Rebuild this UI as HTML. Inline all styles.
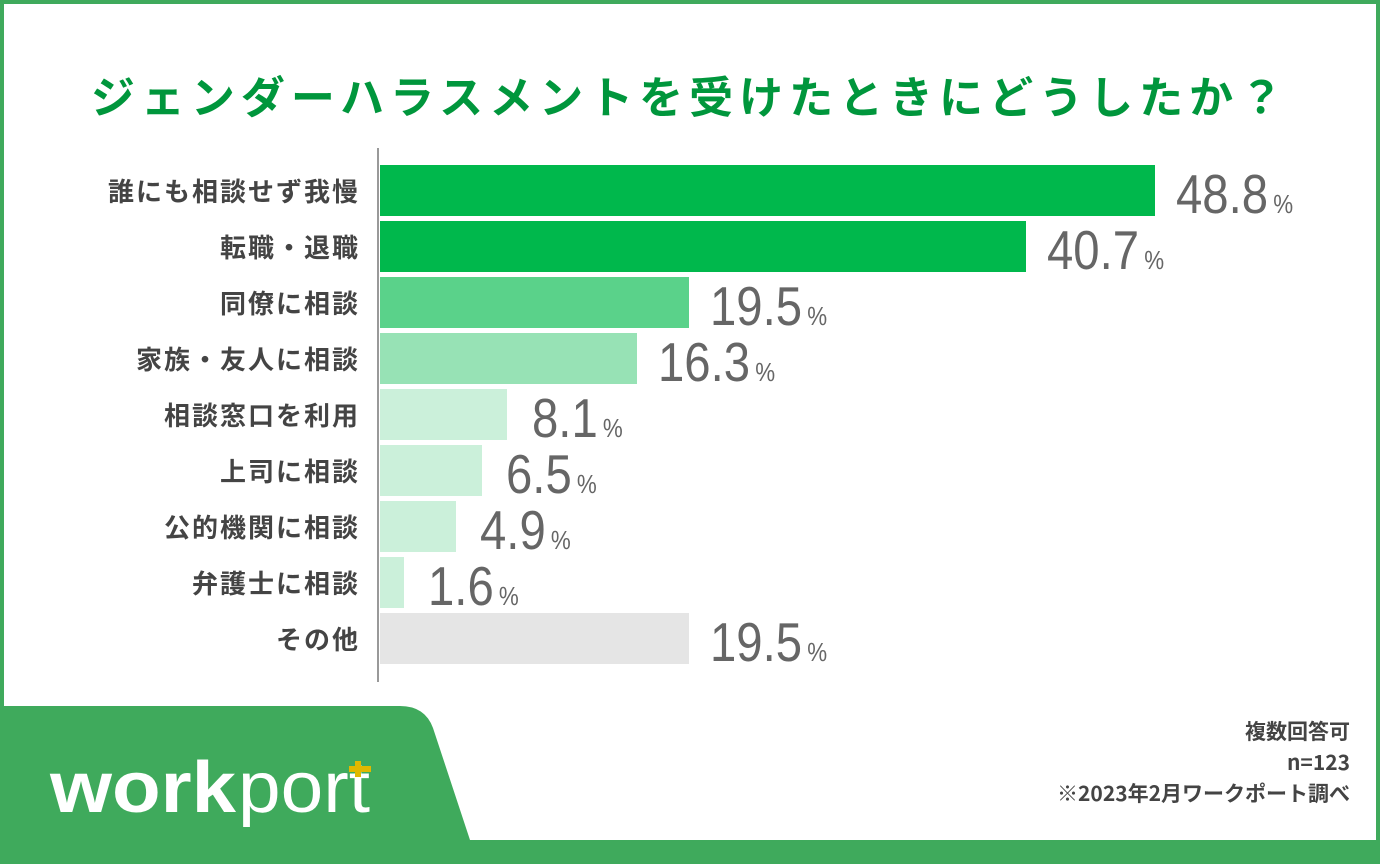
<!DOCTYPE html>
<html><head><meta charset="utf-8"><style>
body{margin:0;width:1380px;height:864px;position:relative;overflow:hidden;background:#fff;font-family:"Liberation Sans","Noto Sans CJK JP",sans-serif}
.frame{position:absolute;left:0;top:0;width:1380px;height:864px;box-sizing:border-box;border:4px solid #3faa5c;border-bottom:none}
.title{position:absolute;left:0;width:1380px;top:62px;text-align:center;font-size:44px;font-weight:bold;color:#00963c;letter-spacing:6px;font-family:"Noto Sans CJK JP",sans-serif}
.axis{position:absolute;left:377px;top:148px;width:2px;height:534px;background:#999}
.bar{position:absolute;left:380px;height:51px}
.lab{position:absolute;right:1022px;font-size:26px;font-weight:bold;color:#444;font-family:"Noto Sans CJK JP",sans-serif;line-height:51px;white-space:nowrap;letter-spacing:2px;margin-right:-2px}
.val{position:absolute;font-size:55px;color:#666;line-height:51px;white-space:nowrap;transform:scaleX(0.86);transform-origin:left}
.val span{font-size:26px;margin-left:6px}
.note{position:absolute;right:30px;text-align:right;font-size:21px;font-weight:bold;color:#444;font-family:"Noto Sans CJK JP",sans-serif;line-height:31px;top:716px}
</style></head><body>
<div class="frame"></div>
<svg style="position:absolute;left:0;top:0" width="1380" height="864">
<path d="M0 706 L400 706 Q425 706 433 728 L470 840 L1380 840 L1380 864 L0 864 Z" fill="#3faa5c"/>
<text x="50" y="812" font-family="Liberation Sans,sans-serif" font-size="72" font-weight="bold" fill="#fff" textLength="186" lengthAdjust="spacingAndGlyphs">work</text>
<text x="238" y="812" font-family="Liberation Sans,sans-serif" font-size="72" fill="#fff" textLength="132" lengthAdjust="spacingAndGlyphs">port</text>
<rect x="349" y="766" width="22" height="6" fill="#e0b800"/><rect x="355" y="761" width="6" height="16" fill="#e0b800"/>
</svg>
<div class="title">ジェンダーハラスメントを受けたときにどうしたか？</div>
<div class="axis"></div>

<div class="bar" style="top:165px;width:775px;background:#00b84c"></div>
<div class="bar" style="top:221px;width:646px;background:#00b84c"></div>
<div class="bar" style="top:277px;width:309px;background:#5ad28a"></div>
<div class="bar" style="top:333px;width:257px;background:#97e2b5"></div>
<div class="bar" style="top:389px;width:127px;background:#cbf0da"></div>
<div class="bar" style="top:445px;width:102px;background:#cbf0da"></div>
<div class="bar" style="top:501px;width:76px;background:#cbf0da"></div>
<div class="bar" style="top:557px;width:24px;background:#cbf0da"></div>
<div class="bar" style="top:613px;width:309px;background:#e5e5e5"></div>

<div class="lab" style="top:165px">誰にも相談せず我慢</div>
<div class="lab" style="top:221px">転職・退職</div>
<div class="lab" style="top:277px">同僚に相談</div>
<div class="lab" style="top:333px">家族・友人に相談</div>
<div class="lab" style="top:389px">相談窓口を利用</div>
<div class="lab" style="top:445px">上司に相談</div>
<div class="lab" style="top:501px">公的機関に相談</div>
<div class="lab" style="top:557px">弁護士に相談</div>
<div class="lab" style="top:613px">その他</div>

<div class="val" style="top:169px;left:1176px">48.8<span>%</span></div>
<div class="val" style="top:225px;left:1047px">40.7<span>%</span></div>
<div class="val" style="top:281px;left:710px">19.5<span>%</span></div>
<div class="val" style="top:337px;left:658px">16.3<span>%</span></div>
<div class="val" style="top:393px;left:532px">8.1<span>%</span></div>
<div class="val" style="top:449px;left:506px">6.5<span>%</span></div>
<div class="val" style="top:505px;left:480px">4.9<span>%</span></div>
<div class="val" style="top:561px;left:428px">1.6<span>%</span></div>
<div class="val" style="top:617px;left:710px">19.5<span>%</span></div>

<div class="note">複数回答可<br>n=123<br>※2023年2月ワークポート調べ</div>
</body></html>
